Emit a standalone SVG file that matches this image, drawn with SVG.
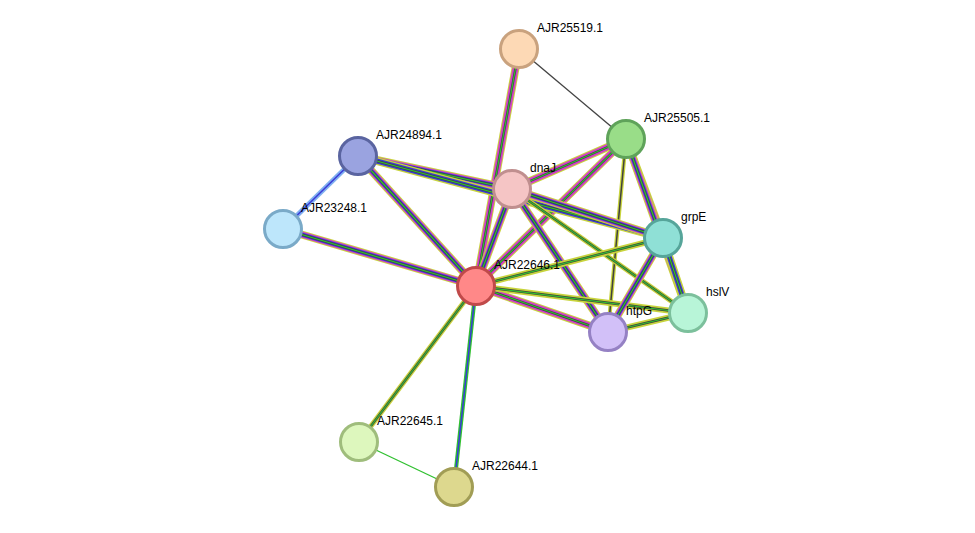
<svg xmlns="http://www.w3.org/2000/svg" xmlns:xlink="http://www.w3.org/1999/xlink" width="975" height="533" viewBox="0 0 975 533">
<style>
.y{stroke:#c8d43c;stroke-width:8;fill:none}
.m{stroke:#d040c8;stroke-width:6;fill:none}
.b{stroke:#3a3ad8;stroke-width:4;fill:none}
.k{stroke:#404040;stroke-width:2.4;fill:none}
.g{stroke:#30c030;stroke-width:1.2;fill:none}
.w{stroke:#fff;stroke-width:0.8;fill:none}
circle{stroke-width:3}
text{font-family:"Liberation Sans",Arial,sans-serif;font-size:12px;fill:#000}
</style>
<defs>
<path id="e1" d="M519 49L476 286"/>
<path id="e2" d="M626 139L512 189"/>
<path id="e3" d="M626 139L476 286"/>
<path id="e4" d="M626 139L663 238"/>
<path id="e5" d="M626 139L688 313"/>
<path id="e6" d="M626 139L608 332"/>
<path id="e7" d="M358 156L512 189"/>
<path id="e8" d="M358 156L663 238"/>
<path id="e9" d="M358 156L476 286"/>
<path id="e10" d="M283 229L476 286"/>
<path id="e11" d="M512 189L476 286"/>
<path id="e12" d="M512 189L663 238"/>
<path id="e13" d="M512 189L608 332"/>
<path id="e14" d="M512 189L688 313"/>
<path id="e15" d="M476 286L663 238"/>
<path id="e16" d="M476 286L608 332"/>
<path id="e17" d="M476 286L688 313"/>
<path id="e18" d="M663 238L608 332"/>
<path id="e19" d="M663 238L688 313"/>
<path id="e20" d="M608 332L688 313"/>
<path id="e21" d="M476 286L359 442"/>
<path id="e22" d="M476 286L454 487"/>
<path id="e23" d="M358 156L283 229"/>
</defs>
<g id="connectors">
<line x1="519" y1="49" x2="626" y2="139" stroke="#444" stroke-width="1.3"/>
<line x1="359" y1="442" x2="454" y2="487" stroke="#30c030" stroke-width="1.3"/>
<g class="multi">
<use href="#e1" class="y"/><use href="#e1" class="m"/><use href="#e1" class="k"/><use href="#e1" class="g"/>
<use href="#e2" class="y"/><use href="#e2" class="m"/><use href="#e2" class="k"/><use href="#e2" class="g"/>
<use href="#e3" class="y"/><use href="#e3" class="m"/><use href="#e3" class="k"/><use href="#e3" class="g"/>
<use href="#e4" class="y"/><use href="#e4" class="m"/><use href="#e4" class="b"/><use href="#e4" class="k"/><use href="#e4" class="g"/>
<use href="#e5" class="y"/><use href="#e5" class="m"/><use href="#e5" class="b"/><use href="#e5" class="k"/><use href="#e5" class="g"/>
<use href="#e6" class="y" style="stroke-width:4"/><use href="#e6" class="k" style="stroke-width:1.5"/>
<use href="#e7" class="y"/><use href="#e7" class="m"/><use href="#e7" class="b"/><use href="#e7" class="k"/><use href="#e7" class="g"/>
<use href="#e8" class="y"/><use href="#e8" class="b" style="stroke-width:5"/><use href="#e8" class="k"/><use href="#e8" class="g"/>
<use href="#e9" class="y"/><use href="#e9" class="m"/><use href="#e9" class="b"/><use href="#e9" class="k"/><use href="#e9" class="g"/>
<use href="#e10" class="y"/><use href="#e10" class="m"/><use href="#e10" class="b"/><use href="#e10" class="k"/><use href="#e10" class="g"/>
<use href="#e11" class="y"/><use href="#e11" class="m"/><use href="#e11" class="b"/><use href="#e11" class="k"/><use href="#e11" class="g"/>
<use href="#e12" class="y"/><use href="#e12" class="m"/><use href="#e12" class="b"/><use href="#e12" class="k"/><use href="#e12" class="g"/>
<use href="#e13" class="y"/><use href="#e13" class="m"/><use href="#e13" class="b"/><use href="#e13" class="k"/><use href="#e13" class="g"/>
<use href="#e14" class="y" style="stroke-width:5"/><use href="#e14" class="k"/><use href="#e14" class="g"/>
<use href="#e15" class="y" style="stroke-width:6"/><use href="#e15" class="k"/><use href="#e15" class="g"/>
<use href="#e16" class="y"/><use href="#e16" class="m"/><use href="#e16" class="k"/><use href="#e16" class="g"/>
<use href="#e17" class="y" style="stroke-width:6"/><use href="#e17" class="k"/><use href="#e17" class="g"/>
<use href="#e18" class="y"/><use href="#e18" class="m"/><use href="#e18" class="b"/><use href="#e18" class="k"/><use href="#e18" class="g"/>
<use href="#e19" class="y"/><use href="#e19" class="b" style="stroke-width:5"/><use href="#e19" class="k"/><use href="#e19" class="g"/>
<use href="#e20" class="y" style="stroke-width:6"/><use href="#e20" class="k"/><use href="#e20" class="g"/>
<use href="#e21" class="y" style="stroke-width:5"/><use href="#e21" class="k"/><use href="#e21" class="g"/>
<use href="#e22" class="g" style="stroke-width:4"/><use href="#e22" class="b" style="stroke-width:1.5"/>
<use href="#e23" class="b" style="stroke:#80b0f0;stroke-width:5"/><use href="#e23" class="b" style="stroke-width:1.5"/>
</g>
</g>
<g id="AJR25519.1"><circle cx="519" cy="49" r="18.5" fill="#fdd9b5" stroke="#c9a27e"/><text x="537" y="32">AJR25519.1</text></g>
<g id="AJR25505.1"><circle cx="626" cy="139" r="18.5" fill="#99dd88" stroke="#5fa35a"/><text x="644" y="122">AJR25505.1</text></g>
<g id="AJR24894.1"><circle cx="358" cy="156" r="18.5" fill="#9aa3e0" stroke="#5a64a0"/><text x="376" y="139">AJR24894.1</text></g>
<g id="dnaJ"><circle cx="512" cy="189" r="18.5" fill="#f5c5c5" stroke="#c08f8f"/><text x="530" y="172">dnaJ</text></g>
<g id="AJR23248.1"><circle cx="283" cy="229" r="18.5" fill="#bde6fb" stroke="#7aaac8"/><text x="301" y="212">AJR23248.1</text></g>
<g id="grpE"><circle cx="663" cy="238" r="18.5" fill="#8fe0d6" stroke="#56a59a"/><text x="681" y="221">grpE</text></g>
<g id="AJR22646.1"><circle cx="476" cy="286" r="18.5" fill="#ff8888" stroke="#c04a4a"/><text x="494" y="269">AJR22646.1</text></g>
<g id="hslV"><circle cx="688" cy="313" r="18.5" fill="#b8f5d8" stroke="#7cc09c"/><text x="706" y="296">hslV</text></g>
<g id="htpG"><circle cx="608" cy="332" r="18.5" fill="#d2c0f8" stroke="#9581c4"/><text x="626" y="315">htpG</text></g>
<g id="AJR22645.1"><circle cx="359" cy="442" r="18.5" fill="#ddf7bd" stroke="#9fbd7c"/><text x="377" y="425">AJR22645.1</text></g>
<g id="AJR22644.1"><circle cx="454" cy="487" r="18.5" fill="#ddd88e" stroke="#a19d55"/><text x="472" y="470">AJR22644.1</text></g>
</svg>
